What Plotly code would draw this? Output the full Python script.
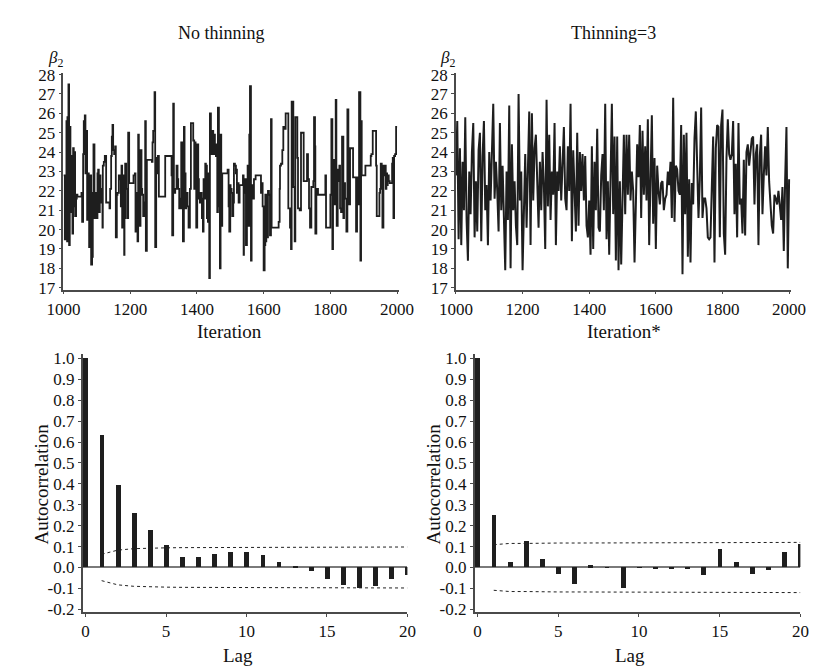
import plotly.graph_objects as go

# ---------------- data ----------------
# No thinning: change points of the chain (iteration, beta_2), drawn as steps
iter_nothin = [1000,1004,1007,1009,1011,1012,1015,1017,1019,1021,1024,1027,1029,1031,1033,1035,1038,1040,1042,1054,
1056,1059,1061,1064,1066,1068,1071,1073,1076,1077,1080,1083,1086,1088,1090,1093,1095,1097,1099,1102,
1104,1106,1109,1111,1114,1117,1118,1121,1124,1128,1138,1140,1143,1145,1147,1149,1152,1155,1157,1160,
1162,1166,1169,1172,1174,1176,1179,1182,1183,1185,1188,1191,1194,1197,1210,1214,1216,1219,1222,1224,
1226,1229,1231,1234,1236,1239,1242,1245,1247,1250,1265,1267,1269,1273,1275,1278,1281,1283,1286,1305,
1324,1326,1329,1331,1335,1339,1342,1344,1347,1349,1351,1353,1356,1358,1361,1363,1366,1368,1372,1375,
1379,1382,1389,1392,1394,1396,1398,1401,1404,1406,1409,1411,1414,1415,1418,1420,1423,1425,1427,1430,
1433,1435,1437,1439,1442,1444,1446,1449,1452,1454,1457,1458,1461,1463,1466,1469,1471,1473,1476,1492,
1495,1497,1500,1501,1504,1506,1509,1511,1514,1517,1519,1520,1523,1525,1528,1535,1538,1540,1541,1544,
1547,1550,1552,1554,1557,1559,1562,1564,1565,1568,1571,1574,1576,1592,1595,1597,1600,1603,1605,1606,
1608,1611,1613,1616,1619,1622,1624,1645,1648,1649,1652,1656,1659,1662,1666,1670,1674,1679,1682,1684,
1689,1693,1695,1701,1703,1708,1712,1720,1730,1733,1736,1739,1743,1749,1751,1754,1755,1758,1760,1763,
1784,1785,1787,1798,1800,1803,1806,1808,1811,1813,1816,1818,1819,1822,1825,1827,1829,1832,1835,1839,
1841,1844,1848,1851,1854,1856,1859,1868,1877,1880,1882,1886,1890,1892,1894,1905,1921,1923,1927,1937,
1939,1947,1949,1951,1954,1956,1959,1961,1963,1966,1968,1970,1972,1975,1978,1982,1985,1987,1989,1991,
1994,1997,2000]
beta_nothin = [22.8,19.5,22.4,25.6,19.4,25.8,27.5,19.2,25.3,20.9,23.8,19.8,24.2,21.2,24.0,20.7,21.6,21.8,21.7,21.9,
20.4,23.9,25.6,25.9,22.9,25.1,20.5,22.9,21.4,19.1,22.8,18.2,18.6,21.9,24.4,20.6,21.9,21.6,20.6,22.9,
23.1,20.9,22.8,21.4,22.1,20.1,23.3,23.5,23.8,21.4,21.1,22.1,23.8,24.8,25.4,24.1,23.9,24.3,19.6,21.8,
21.9,22.8,22.6,21.2,23.3,20.1,22.8,18.7,20.6,23.4,22.1,20.6,25.0,22.4,22.8,22.9,19.9,21.9,19.4,24.9,
21.2,20.2,24.1,22.1,21.8,20.7,21.4,25.6,18.9,23.6,23.5,24.5,25.1,27.1,19.1,23.7,22.9,23.8,21.7,23.8,
22.8,19.7,26.5,21.9,22.1,23.3,22.6,22.1,21.1,21.6,21.1,24.5,23.3,19.4,25.3,22.9,21.1,21.9,21.2,20.1,
22.1,25.5,24.6,22.1,24.5,24.3,20.1,24.4,22.6,21.6,21.4,21.9,21.6,20.6,19.9,22.6,21.6,23.4,23.3,20.6,
20.4,22.9,17.5,26.0,23.9,24.3,25.1,23.9,24.9,24.3,23.8,24.4,20.9,26.3,21.2,18.0,24.9,20.2,22.9,23.1,
21.2,19.9,22.3,22.1,21.9,20.7,21.4,23.4,23.3,22.9,23.1,21.9,22.4,21.4,22.3,22.3,22.8,18.7,21.9,22.6,
19.2,21.8,23.3,20.2,24.9,27.4,18.4,21.6,22.3,21.6,22.6,22.6,22.8,21.9,22.4,21.2,17.9,19.2,21.8,19.4,
21.8,19.6,22.0,21.8,19.7,25.7,20.1,20.4,22.1,23.3,23.4,24.1,25.3,25.2,26.0,26.0,21.1,20.1,19.0,26.6,
22.2,19.4,25.8,23.7,21.1,21.0,25.0,22.5,23.9,22.6,21.1,20.1,22.2,22.5,25.8,24.3,19.8,21.9,22.1,21.8,
21.8,22.8,20.1,20.1,21.8,25.7,19.0,23.6,22.8,21.3,26.7,21.6,20.2,23.1,22.5,23.3,21.1,20.9,24.8,20.6,
22.4,21.6,19.9,26.2,22.6,21.3,24.2,22.7,19.9,22.7,21.3,27.1,18.4,25.6,22.8,23.3,23.8,23.9,25.1,23.3,
20.7,21.9,22.1,23.4,23.3,20.1,23.3,22.8,23.3,22.1,22.9,22.3,22.8,22.5,22.4,22.4,23.4,23.7,20.6,23.8,
23.9,25.3,25.3]

# Thinning = 3: beta_2 every 4 iterations* from 1000 to 2000
iter_thin_start = 1000
iter_thin_step = 4
beta_thin = [22.8,25.6,19.5,24.2,19.2,23.5,21.0,25.8,20.5,18.4,
23.0,20.8,24.0,25.5,19.6,22.5,19.9,24.1,25.0,19.4,
23.8,25.6,21.0,22.3,19.2,24.0,21.5,23.7,26.5,21.6,
23.5,22.0,19.9,25.5,21.0,23.3,20.5,17.9,23.0,20.5,
26.4,18.0,24.4,21.0,22.5,20.2,19.2,27.0,21.5,23.0,
17.9,22.0,23.9,20.1,24.0,26.1,19.2,26.0,21.5,24.2,
24.9,22.2,20.1,23.5,21.0,24.0,22.3,19.0,26.7,21.2,
24.9,20.5,23.0,21.8,25.5,19.2,23.0,22.0,24.3,21.5,
23.0,25.3,21.6,21.0,24.3,22.0,26.5,19.4,24.1,21.5,
19.9,25.0,20.2,24.0,22.0,23.9,21.5,23.8,20.2,19.6,
21.5,18.7,24.3,19.0,23.5,21.0,25.2,20.1,19.9,22.8,
23.9,21.0,26.5,19.5,22.5,18.7,23.0,26.5,20.8,24.8,
18.4,24.8,17.9,22.5,18.2,21.8,24.9,20.8,24.9,21.8,
24.9,21.5,23.0,22.0,18.3,21.3,24.4,22.7,25.4,20.6,
25.1,21.8,24.3,21.5,25.7,19.2,23.0,25.9,20.3,23.7,
19.0,23.3,22.0,21.3,22.4,22.5,21.0,21.6,21.8,23.0,
22.3,23.5,20.6,26.8,20.4,23.3,23.1,22.0,21.8,25.4,
17.7,24.9,20.8,25.0,18.6,22.6,18.3,22.4,21.3,24.7,
26.1,23.9,20.6,22.6,26.3,20.6,21.6,21.6,21.1,19.6,
19.5,19.6,22.9,24.8,18.3,24.2,25.4,25.3,19.6,25.4,
26.2,19.8,18.7,23.7,25.7,23.9,23.6,23.9,25.6,20.8,
23.4,19.6,25.5,21.3,21.6,19.8,23.6,19.7,24.0,24.4,
23.3,24.2,24.7,24.8,21.3,23.9,24.4,19.2,23.8,24.9,
20.8,22.8,24.3,22.8,25.3,22.5,21.2,20.2,19.8,21.8,
21.6,21.3,22.0,21.0,20.5,22.2,18.9,22.5,25.3,18.0,
22.6]
iter_thin = [iter_thin_start + iter_thin_step * i for i in range(len(beta_thin))]

lags = list(range(21))
acf_nothin = [1.0,0.635,0.393,0.26,0.18,0.109,0.05,0.047,0.062,0.075,0.072,0.061,0.026,0.008,-0.02,-0.056,-0.086,-0.10,-0.089,-0.054,-0.036]
acf_thin = [1.0,0.252,0.023,0.124,0.042,-0.03,-0.082,0.009,0.001,-0.101,-0.003,-0.006,-0.008,-0.006,-0.036,0.087,0.023,-0.033,-0.012,0.072,0.11]
band_lags = list(range(1, 21))
band_nothin = [0.063,0.083,0.090,0.093,0.094,0.095,0.095,0.096,0.096,0.096,0.097,0.097,0.097,0.097,0.097,0.097,0.097,0.098,0.098,0.098]
band_thin = [0.109,0.115,0.115,0.117,0.117,0.117,0.117,0.117,0.117,0.118,0.118,0.118,0.118,0.118,0.118,0.118,0.119,0.119,0.119,0.120]

trace_yticks = list(range(17, 29))
trace_xticks = [1000, 1200, 1400, 1600, 1800, 2000]
acf_yticks = [1.0,0.9,0.8,0.7,0.6,0.5,0.4,0.3,0.2,0.1,0.0,-0.1,-0.2]
acf_yticktext = ["1.0","0.9","0.8","0.7","0.6","0.5","0.4","0.3","0.2","0.1","0.0","-0.1","-0.2"]
acf_xticks = [0, 5, 10, 15, 20]

# ---------------- figure ----------------
W, H = 817, 666
FONT = "Liberation Serif"
INK = "#1e1e1e"
AX = "#4a4a4a"

fig = go.Figure()

fig.add_trace(go.Scatter(x=iter_nothin, y=beta_nothin, mode="lines", line=dict(color=INK, width=1.8, shape="hv"),
                         xaxis="x", yaxis="y", showlegend=False))
fig.add_trace(go.Scatter(x=iter_thin, y=beta_thin, mode="lines", line=dict(color=INK, width=2.0),
                         xaxis="x2", yaxis="y2", showlegend=False))

for ax_x, ax_y, acf, band in (("x3", "y3", acf_nothin, band_nothin), ("x4", "y4", acf_thin, band_thin)):
    fig.add_trace(go.Bar(x=lags, y=acf, width=0.3, marker=dict(color=INK, line=dict(width=0)),
                         xaxis=ax_x, yaxis=ax_y, showlegend=False))
    fig.add_trace(go.Scatter(x=band_lags, y=band, mode="lines", line=dict(color="#222", width=1, dash="dot"),
                             xaxis=ax_x, yaxis=ax_y, showlegend=False))
    fig.add_trace(go.Scatter(x=band_lags, y=[-v for v in band], mode="lines", line=dict(color="#222", width=1, dash="dot"),
                             xaxis=ax_x, yaxis=ax_y, showlegend=False))

def px(xp):
    return xp / W

def py(yp):
    return 1 - yp / H

tickfont = dict(family=FONT, size=17, color="#111")
common = dict(showgrid=False, showline=True, linecolor=AX, linewidth=1.5, ticks="outside",
              ticklen=3, tickwidth=1.2, tickcolor=AX, tickfont=tickfont, zeroline=False)

top_dom_y = [py(281), py(59)]
bot_dom_y = [py(611), py(347)]

fig.update_layout(
    width=W, height=H, margin=dict(l=0, r=0, t=0, b=0),
    paper_bgcolor="white", plot_bgcolor="white", bargap=0,
    xaxis=dict(domain=[px(40), px(389)], range=[1000, 2005], tickvals=trace_xticks, anchor="y", **common),
    yaxis=dict(domain=top_dom_y, range=[16.9, 28.1], tickvals=trace_yticks, anchor="x", **common),
    xaxis2=dict(domain=[px(448.5), px(797)], range=[1000, 2005], tickvals=trace_xticks, anchor="y2", **common),
    yaxis2=dict(domain=top_dom_y, range=[16.9, 28.1], tickvals=trace_yticks, anchor="x2", **common),
    xaxis3=dict(domain=[px(60), px(398)], range=[-0.18, 20], tickvals=acf_xticks, anchor="y3", **common),
    yaxis3=dict(domain=bot_dom_y, range=[-0.214, 1.02], tickvals=acf_yticks, ticktext=acf_yticktext, anchor="x3", **common),
    xaxis4=dict(domain=[px(468), px(807)], range=[-0.18, 20], tickvals=acf_xticks, anchor="y4", **common),
    yaxis4=dict(domain=bot_dom_y, range=[-0.214, 1.02], tickvals=acf_yticks, ticktext=acf_yticktext, anchor="x4", **common),
)
for ya in ("yaxis3", "yaxis4"):
    fig.layout[ya].update(zeroline=True, zerolinecolor="#7a7a7a", zerolinewidth=1.6)

def note(text, x, y, size, angle=0):
    fig.add_annotation(text=text, x=px(x), y=py(y), xref="paper", yref="paper", showarrow=False,
                       xanchor="center", yanchor="middle", textangle=angle,
                       font=dict(family=FONT, size=size, color="#111"))

note("No thinning", 205, 18, 18)
note("Thinning=3", 613, 18, 18)
note("<i>β</i><sub>2</sub>", 32, 45, 17)
note("<i>β</i><sub>2</sub>", 440, 45, 17)
note("Iteration", 213, 324, 19)
note("Iteration*", 623, 324, 19)
note("Lag", 222, 655, 19)
note("Lag", 630, 655, 19)
note("Autocorrelation", 17, 480, 19, -90)
note("Autocorrelation", 425, 480, 19, -90)

fig.write_html("out.html")
